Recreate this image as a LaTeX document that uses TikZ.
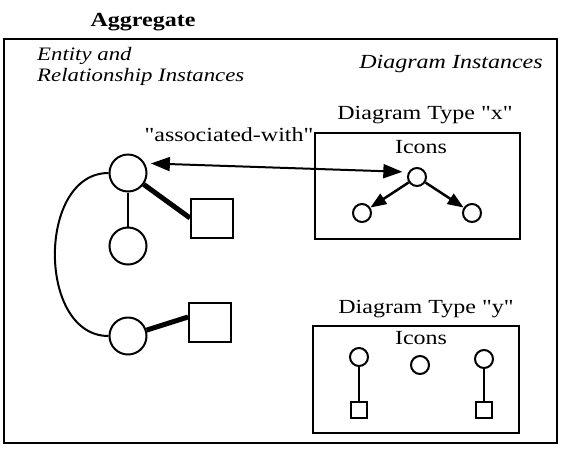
\documentclass[tikz,border=0pt]{standalone}
\usepackage{fontspec}
\setmainfont{Liberation Serif}
\usetikzlibrary{arrows.meta}

\begin{document}
\begin{tikzpicture}[x=1pt,y=-1pt]
  \tikzstyle{every node}+=[inner sep=0pt]
  \tikzstyle{txt}=[xscale=1.2,anchor=base,font=\fontsize{20}{21}\selectfont]
  \tikzstyle{ent}=[draw,circle,line width=2pt,minimum size=37pt]
  \tikzstyle{rel}=[draw,line width=2pt,minimum width=42pt,minimum height=39pt]
  \tikzstyle{icon}=[draw,circle,line width=2pt,minimum size=18pt]
  \tikzstyle{iconbox}=[draw,line width=2pt,minimum size=16pt]
  \tikzstyle{bigtip}=[{Triangle[length=19pt,width=14pt]}-{Triangle[length=19pt,width=14pt]}]
  \useasboundingbox (0,0) rectangle (561,453);
  % frames
  \draw [line width=2.5pt] (4,39) rectangle (557,443);
  \draw [line width=2.5pt] (315,133) rectangle (520,239);
  \draw [line width=2.5pt] (313,326) rectangle (519,433);
  % texts
  \node (agg) [txt,font=\fontsize{20}{21}\selectfont\bfseries] at (143,26) {Aggregate};
  \node (eri) [txt,anchor=base west,align=left,font=\fontsize{19}{21}\selectfont\itshape] at (37,81) {Entity and\\Relationship Instances};
  \node (dgi) [txt,font=\fontsize{20}{21}\selectfont\itshape] at (451,68) {Diagram Instances};
  \node (tpx) [txt] at (425,119) {Diagram Type \textquotedbl x\textquotedbl};
  \node (asw) [txt] at (229,141) {\textquotedbl associated-with\textquotedbl};
  \node (icx) [txt] at (421,153) {Icons};
  \node (tpy) [txt] at (426,313) {Diagram Type \textquotedbl y\textquotedbl};
  \node (icy) [txt] at (421,344) {Icons};
  % entities and relationships
  \node (c1) [ent] at (128,173) {};
  \node (c2) [ent] at (128,246) {};
  \node (c3) [ent] at (128,336) {};
  \node (s1) [rel] at (212,218) {};
  \node (s2) [rel] at (210,322) {};
  \draw [line width=1.5pt] (c1) -- (c2);
  \draw [line width=5pt] (c1) -- (s1.west);
  \draw [line width=5pt] (c3) -- ([yshift=5pt]s2.west);
  \draw [line width=2pt] (c1.west) .. controls (37,173) and (37,336) .. (c3.west);
  % icons of type x
  \node (ix) [icon] at (417,177) {};
  \node (il) [icon] at (362,213) {};
  \node (ir) [icon] at (472,213) {};
  \draw [line width=2.5pt,-{Triangle[length=16pt,width=12pt]}] (ix) -- (il);
  \draw [line width=2.5pt,-{Triangle[length=16pt,width=12pt]}] (ix) -- (ir);
  \draw [line width=2pt,bigtip,shorten <=6pt,shorten >=6pt] (c1.30) -- (ix.150);
  % icons of type y
  \node (yl) [icon] at (359,357) {};
  \node (ym) [icon] at (420,365) {};
  \node (yr) [icon] at (484,359) {};
  \node (ql) [iconbox] at (359,410) {};
  \node (qr) [iconbox] at (484,410) {};
  \draw [line width=1.5pt] (yl) -- (ql);
  \draw [line width=1.5pt] (yr) -- (qr);
\end{tikzpicture}
\end{document}
